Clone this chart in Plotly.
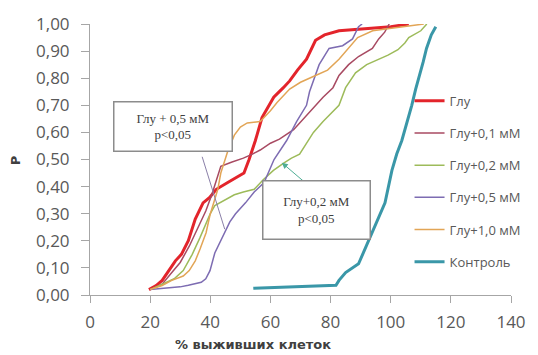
import plotly.graph_objects as go

# ---- data ----
series_names = ["Глу", "Глу+0,1 мМ", "Глу+0,2 мМ", "Глу+0,5 мМ", "Глу+1,0 мМ", "Контроль"]

glu_x = [19.6, 22, 24, 26.8, 28.4, 30.4, 32.7, 35, 37.6, 39.8, 42, 45.8, 48, 51.2, 52.9, 55, 57.2, 61.1, 64.3, 66.4, 69, 72, 75, 78, 82.8, 88, 94, 100, 106]
glu_p = [0.02, 0.035, 0.054, 0.097, 0.126, 0.15, 0.2, 0.28, 0.34, 0.36, 0.39, 0.415, 0.43, 0.45, 0.5, 0.57, 0.655, 0.73, 0.765, 0.79, 0.83, 0.87, 0.94, 0.96, 0.975, 0.98, 0.985, 0.99, 1.0]

g01_x = [20, 24, 27, 30, 33, 36, 38.5, 40.5, 42, 43.5, 47, 51, 54, 56.6, 60, 63, 67.7, 71, 74, 77.5, 80.8, 82.8, 86, 89.3, 93.9, 96, 98, 99.5]
g01_p = [0.02, 0.04, 0.08, 0.12, 0.18, 0.25, 0.31, 0.37, 0.42, 0.475, 0.49, 0.505, 0.52, 0.535, 0.56, 0.575, 0.61, 0.65, 0.69, 0.73, 0.765, 0.81, 0.85, 0.88, 0.91, 0.945, 0.97, 1.0]

g02_x = [20, 24, 28, 31, 34, 36.5, 38.5, 40, 41.5, 45, 48, 51, 54.6, 57.6, 61, 64.4, 67, 69.7, 72, 74.3, 77.5, 80, 82.8, 85, 88.3, 92, 96, 99.1, 102.4, 104.7, 106, 110, 112]
g02_p = [0.02, 0.04, 0.06, 0.09, 0.15, 0.21, 0.26, 0.3, 0.33, 0.35, 0.37, 0.38, 0.39, 0.425, 0.46, 0.487, 0.505, 0.52, 0.56, 0.6, 0.64, 0.67, 0.70, 0.765, 0.82, 0.85, 0.87, 0.885, 0.905, 0.93, 0.95, 0.975, 1.0]

g05_x = [20, 25, 30, 32.7, 37, 38.5, 39.9, 41.5, 43.5, 45.1, 46.5, 48.4, 51.7, 54.6, 57.9, 61.2, 65.4, 68.7, 72, 73, 76.2, 79.5, 84, 87.3, 89.3, 90.5]
g05_p = [0.02, 0.025, 0.03, 0.036, 0.047, 0.06, 0.09, 0.155, 0.2, 0.24, 0.27, 0.3, 0.34, 0.38, 0.415, 0.5, 0.57, 0.64, 0.70, 0.75, 0.85, 0.91, 0.92, 0.945, 0.99, 1.0]

g10_x = [20, 24, 27.2, 31, 33, 35, 36.6, 38.6, 39.9, 41.5, 42.5, 43.5, 45.8, 48, 50, 52.3, 56.6, 60, 62.2, 66.4, 70, 75, 79, 82.8, 86, 89, 94, 101, 111]
g10_p = [0.02, 0.035, 0.054, 0.07, 0.09, 0.126, 0.17, 0.23, 0.295, 0.355, 0.39, 0.45, 0.53, 0.59, 0.62, 0.635, 0.64, 0.68, 0.71, 0.76, 0.785, 0.81, 0.83, 0.87, 0.91, 0.95, 0.975, 0.985, 1.0]

ctrl_x = [54.3, 70, 81.8, 82.8, 85, 89.3, 92.2, 94.2, 96, 98.1, 100.4, 102, 103.7, 105.5, 107, 108.3, 109.6, 110.8, 111.9, 113.5, 115]
ctrl_p = [0.025, 0.03, 0.036, 0.054, 0.083, 0.115, 0.19, 0.245, 0.29, 0.34, 0.46, 0.52, 0.57, 0.64, 0.70, 0.76, 0.81, 0.86, 0.91, 0.96, 0.99]

x_ticks = [0, 20, 40, 60, 80, 100, 120, 140]
y_ticks = [0.0, 0.1, 0.2, 0.3, 0.4, 0.5, 0.6, 0.7, 0.8, 0.9, 1.0]

xs = [glu_x, g01_x, g02_x, g05_x, g10_x, ctrl_x]
ps = [glu_p, g01_p, g02_p, g05_p, g10_p, ctrl_p]
colors = ["#E3242B", "#A84A62", "#9DBB5A", "#7D6CB2", "#E2A556", "#3A97A8"]
widths = [3, 1.5, 1.5, 1.5, 1.5, 3]

fig = go.Figure()
for name, x, p, c, w in zip(series_names, xs, ps, colors, widths):
    fig.add_trace(go.Scatter(x=x, y=p, mode="lines", name=name, legendgroup=name,
                             line=dict(color=c, width=w)))

axis_col = "#A6A6A6"
tick_font = dict(family="Open Sans", size=17, color="#595959")

fig.update_layout(
    width=538, height=355,
    margin=dict(l=90, r=20, t=18, b=60),
    paper_bgcolor="white", plot_bgcolor="white",
    separators=", ",
    showlegend=True,
    legend=dict(x=0.759, y=0.772, xanchor="left", yanchor="top",
                font=dict(family="Open Sans", size=13, color="#595959"),
                tracegroupgap=12.3, bgcolor="rgba(0,0,0,0)"),
    xaxis=dict(range=[0, 140], tickvals=x_ticks, showgrid=False, zeroline=False,
               showline=True, linecolor=axis_col, linewidth=1,
               ticks="outside", ticklen=7, tickcolor=axis_col, tickfont=tick_font,
               ticklabelstandoff=5),
    yaxis=dict(range=[0, 1], tickvals=y_ticks, tickformat=".2f", showgrid=False, zeroline=False,
               showline=True, linecolor=axis_col, linewidth=1,
               ticks="outside", ticklen=8, tickcolor=axis_col, tickfont=tick_font,
               ticklabelstandoff=8),
)

# axis titles
fig.add_annotation(text="<b>% выживших клеток</b>", xref="paper", yref="paper",
                   x=(256 - 90) / 428, y=-(346 - 295) / 277, xanchor="center", yanchor="middle",
                   showarrow=False, font=dict(family="DejaVu Sans", size=13, color="#404040"))
fig.add_annotation(text="<b>P</b>", xref="paper", yref="paper",
                   x=-(90 - 15) / 428, y=(295 - 157) / 277, xanchor="center", yanchor="middle",
                   textangle=-90, showarrow=False, font=dict(family="DejaVu Sans", size=13, color="#404040"))

box_font = dict(family="Liberation Serif", size=13, color="#404040")
# box 1 with connector line
fig.add_shape(type="line", x0=37.3, y0=0.51, x1=44.8, y1=0.243, xref="x", yref="y",
              line=dict(color="#8A7FA8", width=1))
fig.add_annotation(text="Глу + 0,5 мМ<br>p<0,05", x=27.6, y=0.62, xref="x", yref="y",
                   showarrow=False, width=113, height=44, bgcolor="white",
                   bordercolor="#8C8C8C", borderwidth=1.5, borderpad=2, font=box_font, align="center")
# box 2 with arrow
fig.add_annotation(text="", x=63.8, y=0.488, xref="x", yref="y", ax=34, ay=29,
                   showarrow=True, arrowhead=2, arrowsize=1.2, arrowwidth=1, arrowcolor="#4FAE95")
fig.add_annotation(text="Глу+0,2 мМ<br>p<0,05", x=75.2, y=0.315, xref="x", yref="y",
                   showarrow=False, width=102, height=53, bgcolor="white",
                   bordercolor="#8C8C8C", borderwidth=1.5, borderpad=2, font=box_font, align="center")

fig.write_html("out.html")
